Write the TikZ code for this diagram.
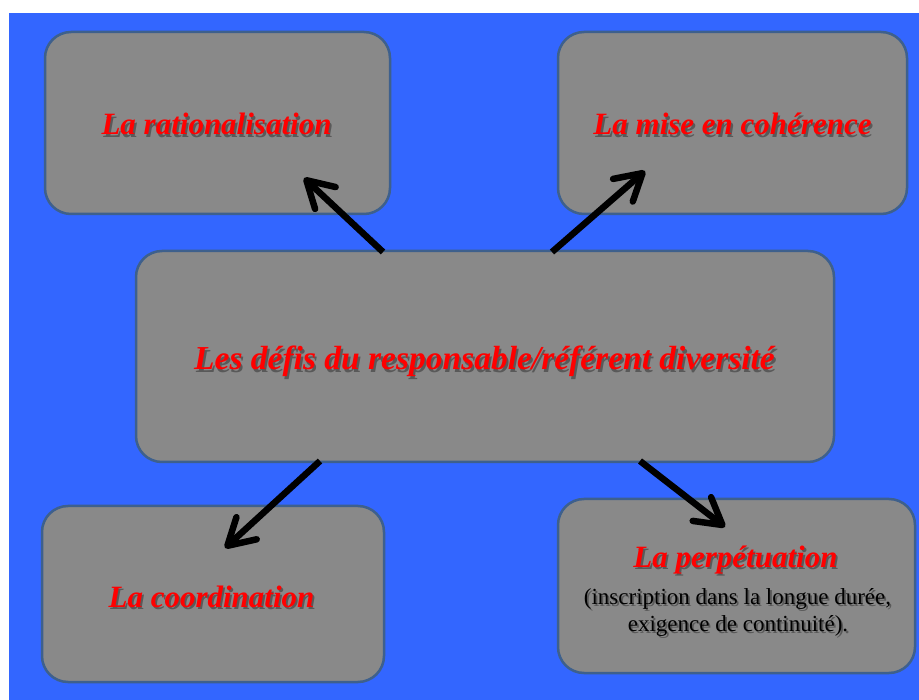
\documentclass[tikz,border=0pt]{standalone}
\usepackage{fontspec}
\setmainfont{Liberation Serif}
\usetikzlibrary{arrows.meta}
\definecolor{bgblue}{RGB}{51,102,255}
\definecolor{boxgray}{RGB}{137,137,137}
\definecolor{boxedge}{RGB}{62,96,140}
\tikzset{
  box/.style={draw=boxedge, line width=2.5pt, fill=boxgray, rounded corners=26pt, inner sep=0pt, rectangle},
  headfont/.style={font=\fontsize{31}{36}\selectfont\bfseries\itshape, anchor=base, inner sep=0pt},
  bigfont/.style={font=\fontsize{33.5}{38}\selectfont\bfseries\itshape, anchor=base, inner sep=0pt},
  subfont/.style={font=\fontsize{23}{27}\selectfont, anchor=base, inner sep=0pt},
  red text/.style={text=red},
  black text/.style={text=black},
  shade text/.style={text=black, text opacity=0.35},
  link/.style={line width=6.5pt, -{Straight Barb[length=26pt,width=30pt,round]}}
}
\newcommand\shtext[4]{%
  \node[#1, shade text, xshift=1.8pt, yshift=-2.2pt] at (#2) {#4};
  \node[#1, #3] at (#2) {#4};
}
\begin{document}
\begin{tikzpicture}[x=1pt,y=-1pt]
\useasboundingbox (0,0) rectangle (919,700);
\fill[bgblue] (9,13) rectangle (919,700);
% boxes
\node[box, minimum width=345pt, minimum height=182pt] (tl) at (217.5,123) {};
\node[box, minimum width=349pt, minimum height=182pt] (tr) at (732.5,123) {};
\node[box, minimum width=698pt, minimum height=211pt] (c) at (485,356.5) {};
\node[box, minimum width=342pt, minimum height=176pt] (bl) at (213,594) {};
\node[box, minimum width=357pt, minimum height=174pt] (br) at (736.5,586) {};
% texts
\shtext{headfont}{216.5,135}{red text}{La rationalisation}
\shtext{headfont}{732.5,135}{red text}{La mise en cohérence}
\shtext{bigfont}{484.5,370}{red text}{Les défis du responsable/référent diversité}
\shtext{headfont}{211.5,607}{red text}{La coordination}
\shtext{headfont}{735.5,567}{red text}{La perpétuation}
\shtext{subfont}{737.5,604}{black text}{(inscription dans la longue durée,}
\shtext{subfont}{738,631}{black text}{exigence de continuité).}
% arrows
\coordinate (a1s) at (383,252);
\coordinate (a1e) at (304,178);
\coordinate (a2s) at (552,252);
\coordinate (a2e) at (645,171);
\coordinate (a3s) at (320,461);
\coordinate (a3e) at (225,548);
\coordinate (a4s) at (640,461);
\coordinate (a4e) at (725,527);
\draw[link] (a1s) -- (a1e);
\draw[link] (a2s) -- (a2e);
\draw[link] (a3s) -- (a3e);
\draw[link] (a4s) -- (a4e);
\end{tikzpicture}
\end{document}
